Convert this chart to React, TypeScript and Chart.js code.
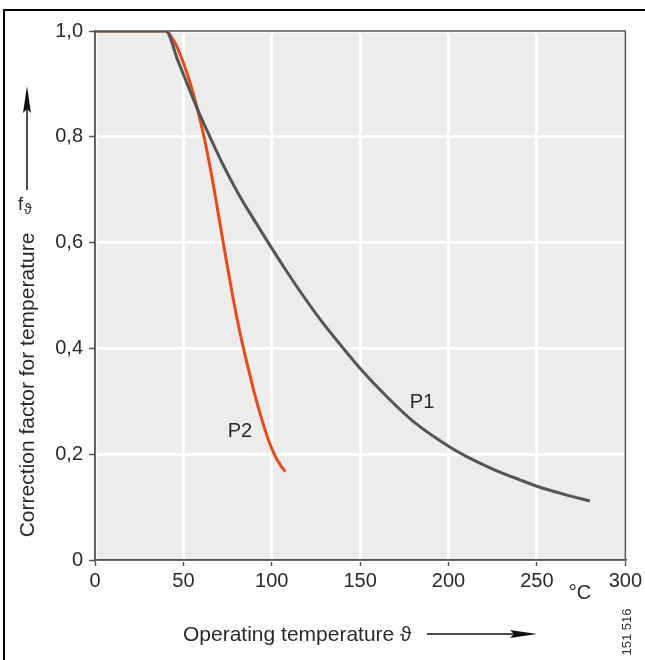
import React, { useEffect, useRef } from "react";
import { Chart, registerables } from "chart.js";

Chart.register(...registerables);

const p1Temps = [0, 40, 47, 58, 65, 72, 81, 90, 98, 107, 116, 128, 140, 150, 165, 180, 200, 210, 225, 240, 250, 265, 280];
const p1Values = [1.0, 1.0, 0.943, 0.852, 0.8, 0.75, 0.693, 0.643, 0.6, 0.553, 0.508, 0.452, 0.402, 0.362, 0.309, 0.262, 0.215, 0.196, 0.172, 0.152, 0.1395, 0.1245, 0.1115];

const p2Temps = [0, 40, 43, 46, 50, 54, 58, 62, 66, 70, 74, 78, 82, 86, 90, 94, 98, 102, 105, 107.7];
const p2Values = [1.0, 1.0, 0.99, 0.973, 0.94, 0.9, 0.852, 0.795, 0.727, 0.65, 0.572, 0.497, 0.43, 0.372, 0.318, 0.27, 0.228, 0.196, 0.179, 0.167];

const xTicks = [0, 50, 100, 150, 200, 250, 300];
const yTicks = [0, 0.2, 0.4, 0.6, 0.8, 1.0];

const FONT = "'Liberation Sans', Arial, Helvetica, sans-serif";
const TEXT = "#2a2a2a";

const decorPlugin = {
  id: "decor",
  beforeDraw(chart: any) {
    const { ctx, chartArea: a } = chart;
    ctx.save();
    ctx.fillStyle = "#ececec";
    ctx.fillRect(a.left, a.top, a.right - a.left, a.bottom - a.top);
    ctx.restore();
  },
  beforeDatasetsDraw(chart: any) {
    const { ctx, chartArea: a } = chart;
    ctx.save();
    ctx.strokeStyle = "#555";
    ctx.lineWidth = 1.5;
    ctx.strokeRect(a.left, a.top, a.right - a.left, a.bottom - a.top);
    ctx.restore();
  },
  afterDraw(chart: any) {
    const { ctx, scales } = chart;
    const xs = scales.x;
    const ys = scales.y;
    ctx.save();
    // outer frame
    ctx.strokeStyle = "#000";
    ctx.lineWidth = 2;
    ctx.strokeRect(4, 10, 800, 800);

    ctx.fillStyle = TEXT;
    ctx.font = `20px ${FONT}`;
    ctx.textAlign = "center";
    ctx.textBaseline = "middle";
    // curve labels
    ctx.fillText("P1", xs.getPixelForValue(185), ys.getPixelForValue(0.298));
    ctx.fillText("P2", xs.getPixelForValue(82), ys.getPixelForValue(0.243));

    // unit
    ctx.fillText("°C", 580, 593);

    // x title
    ctx.font = `21px ${FONT}`;
    ctx.textAlign = "left";
    ctx.fillText("Operating temperature ϑ", 183, 635);
    // x arrow
    ctx.strokeStyle = "#111";
    ctx.fillStyle = "#111";
    ctx.lineWidth = 1.5;
    ctx.beginPath();
    ctx.moveTo(427, 634);
    ctx.lineTo(516, 634);
    ctx.stroke();
    ctx.beginPath();
    ctx.moveTo(537, 634);
    ctx.lineTo(510, 630);
    ctx.lineTo(514, 634);
    ctx.lineTo(510, 638);
    ctx.closePath();
    ctx.fill();

    // y title rotated
    ctx.save();
    ctx.translate(28, 385);
    ctx.rotate(-Math.PI / 2);
    ctx.textAlign = "center";
    ctx.fillStyle = TEXT;
    ctx.fillText("Correction factor for temperature", 0, 0);
    ctx.restore();

    // f subscript theta
    ctx.fillStyle = TEXT;
    ctx.textAlign = "left";
    ctx.font = `18px ${FONT}`;
    ctx.fillText("f", 18, 205);
    ctx.font = `14px ${FONT}`;
    ctx.fillText("ϑ", 24, 210);

    // y arrow
    ctx.fillStyle = "#111";
    ctx.beginPath();
    ctx.moveTo(27, 190);
    ctx.lineTo(27, 108);
    ctx.stroke();
    ctx.beginPath();
    ctx.moveTo(27, 86);
    ctx.lineTo(23, 113);
    ctx.lineTo(27, 109);
    ctx.lineTo(31, 113);
    ctx.closePath();
    ctx.fill();

    // figure number
    ctx.save();
    ctx.translate(627, 632);
    ctx.rotate(-Math.PI / 2);
    ctx.textAlign = "center";
    ctx.font = `13px ${FONT}`;
    ctx.fillStyle = "#333";
    ctx.fillText("151 516", 0, 0);
    ctx.restore();

    ctx.restore();
  },
};

export default function App() {
  const ref = useRef<HTMLCanvasElement>(null);
  useEffect(() => {
    document.body.style.margin = "0";
    const chart = new Chart(ref.current!, {
      type: "line",
      data: {
        datasets: [
          {
            label: "P1",
            data: p1Temps.map((t, i) => ({ x: t, y: p1Values[i] })),
            borderColor: "#555555",
            borderWidth: 3,
            pointRadius: 0,
            cubicInterpolationMode: "monotone",
          },
          {
            label: "P2",
            data: p2Temps.map((t, i) => ({ x: t, y: p2Values[i] })),
            borderColor: "#e84a1c",
            borderWidth: 3,
            pointRadius: 0,
            cubicInterpolationMode: "monotone",
          },
        ],
      },
      options: {
        animation: false,
        responsive: false,
        layout: { padding: { left: 0, right: 18, top: 31, bottom: 0 } },
        plugins: { legend: { display: false }, tooltip: { enabled: false } },
        scales: {
          x: {
            type: "linear",
            min: 0,
            max: 300,
            afterBuildTicks: (s: any) => {
              s.ticks = xTicks.map((v) => ({ value: v }));
            },
            afterFit: (s: any) => {
              s.height = 100;
            },
            ticks: {
              color: TEXT,
              font: { family: FONT, size: 20 },
              padding: 3,
              maxRotation: 0,
            },
            grid: { color: "#ffffff", lineWidth: 3, tickColor: "#555", tickLength: 6, tickWidth: 1.5 },
            border: { color: "#555", width: 1.5 },
          },
          y: {
            type: "linear",
            min: 0,
            max: 1,
            afterBuildTicks: (s: any) => {
              s.ticks = yTicks.map((v) => ({ value: v }));
            },
            afterFit: (s: any) => {
              s.width = 95;
            },
            ticks: {
              color: TEXT,
              font: { family: FONT, size: 20 },
              padding: 6,
              callback: (v: any) => (v === 0 ? "0" : Number(v).toFixed(1).replace(".", ",")),
            },
            grid: { color: "#ffffff", lineWidth: 3, tickColor: "#555", tickLength: 6, tickWidth: 1.5 },
            border: { color: "#555", width: 1.5 },
          },
        },
      },
      plugins: [decorPlugin],
    } as any);
    return () => chart.destroy();
  }, []);
  return (
    <div style={{ position: "absolute", left: 0, top: 0, width: 645, height: 660, background: "#fff" }}>
      <canvas ref={ref} width={645} height={660} />
    </div>
  );
}
